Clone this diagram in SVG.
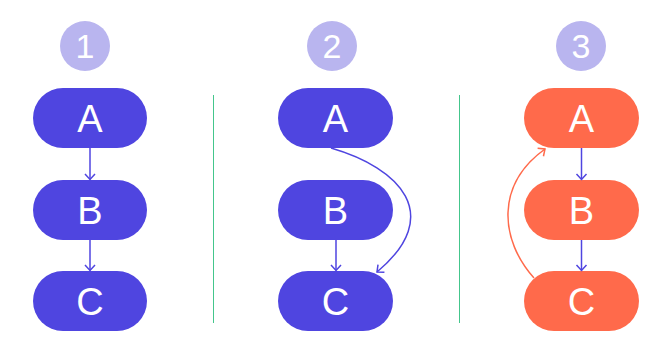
<svg xmlns="http://www.w3.org/2000/svg" width="672" height="360" viewBox="0 0 672 360">
  <style>
    .node-blue { fill: #4F45E0; }
    .node-orange { fill: #FF6A4B; }
    .lbl { font-family: "Liberation Sans", Arial, sans-serif; font-size: 38px; fill: #FFFFFF; text-anchor: middle; }
    .badge { fill: #B9B5EF; }
    .num { font-family: "Liberation Sans", Arial, sans-serif; font-size: 34px; fill: #FFFFFF; text-anchor: middle; }
    .edge-blue { fill: none; stroke: #4F45E0; stroke-width: 1.5; marker-end: url(#arrow-blue); }
    .edge-orange { fill: none; stroke: #FF6A4B; stroke-width: 1.5; marker-end: url(#arrow-orange); }
    .divider { stroke: #44C68C; stroke-width: 1; }
  </style>
  <defs>
    <marker id="arrow-blue" markerUnits="userSpaceOnUse" markerWidth="14" markerHeight="14" viewBox="-8 -7 10 14" refX="0" refY="0" orient="auto">
      <path d="M-5.5,-5 L0,0 L-5.5,5" fill="none" stroke="#4F45E0" stroke-width="1.5"/>
    </marker>
    <marker id="arrow-orange" markerUnits="userSpaceOnUse" markerWidth="14" markerHeight="14" viewBox="-8 -7 10 14" refX="0" refY="0" orient="auto">
      <path d="M-5.5,-5 L0,0 L-5.5,5" fill="none" stroke="#FF6A4B" stroke-width="1.5"/>
    </marker>
  </defs>

  <rect width="672" height="360" fill="#FFFFFF"/>

  <!-- dividers -->
  <g id="dividers">
    <line class="divider" x1="213.5" y1="95" x2="213.5" y2="323"/>
    <line class="divider" x1="459.5" y1="95" x2="459.5" y2="323"/>
  </g>

  <!-- step badges -->
  <g id="badge-1"><circle class="badge" cx="85" cy="46" r="25"/><text class="num" x="85" y="58">1</text></g>
  <g id="badge-2"><circle class="badge" cx="332" cy="46" r="25"/><text class="num" x="332" y="58">2</text></g>
  <g id="badge-3"><circle class="badge" cx="581" cy="46" r="25"/><text class="num" x="581" y="58">3</text></g>

  <!-- panel 1 nodes -->
  <g id="p1-A"><rect class="node-blue" x="33" y="88" width="114" height="60" rx="30"/><text class="lbl" x="90" y="132">A</text></g>
  <g id="p1-B"><rect class="node-blue" x="33" y="180" width="114" height="60" rx="30"/><text class="lbl" x="90" y="224">B</text></g>
  <g id="p1-C"><rect class="node-blue" x="33" y="271" width="114" height="60" rx="30"/><text class="lbl" x="90" y="315">C</text></g>

  <!-- panel 2 nodes -->
  <g id="p2-A"><rect class="node-blue" x="278" y="88" width="115" height="60" rx="30"/><text class="lbl" x="335.5" y="132">A</text></g>
  <g id="p2-B"><rect class="node-blue" x="278" y="180" width="115" height="60" rx="30"/><text class="lbl" x="335.5" y="224">B</text></g>
  <g id="p2-C"><rect class="node-blue" x="278" y="271" width="115" height="60" rx="30"/><text class="lbl" x="335.5" y="315">C</text></g>

  <!-- panel 3 nodes -->
  <g id="p3-A"><rect class="node-orange" x="524" y="88" width="115" height="60" rx="30"/><text class="lbl" x="581.5" y="132">A</text></g>
  <g id="p3-B"><rect class="node-orange" x="524" y="180" width="115" height="60" rx="30"/><text class="lbl" x="581.5" y="224">B</text></g>
  <g id="p3-C"><rect class="node-orange" x="524" y="271" width="115" height="60" rx="30"/><text class="lbl" x="581.5" y="315">C</text></g>

  <!-- connectors -->
  <g id="connectors">
    <path class="edge-blue" d="M90,148 L90,179.5"/>
    <path class="edge-blue" d="M90,240 L90,270.5"/>
    <path class="edge-blue" d="M336,240 L336,270.5"/>
    <path class="edge-blue" d="M331,148 C400,168 445,215 377,272"/>
    <path class="edge-blue" d="M581.5,148 L581.5,179.5"/>
    <path class="edge-blue" d="M581.5,240 L581.5,270.5"/>
    <path class="edge-orange" d="M534,278 C500,240 495,185 545,149"/>
  </g>
</svg>
